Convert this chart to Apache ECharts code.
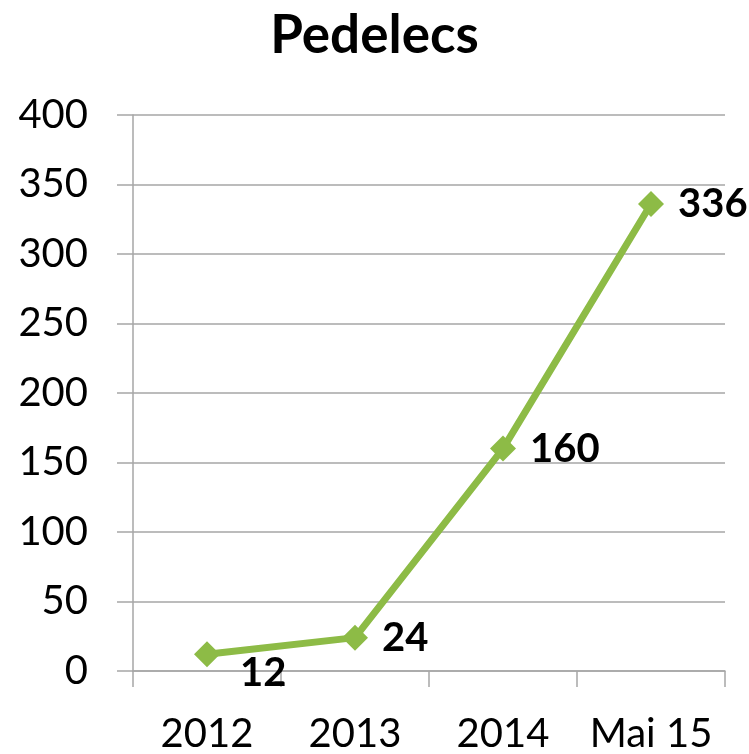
<!DOCTYPE html>
<html>
<head>
<meta charset="utf-8">
<script src="https://cdn.jsdelivr.net/npm/echarts@6/dist/echarts.min.js"></script>
<style>
  html, body { margin: 0; padding: 0; background: #fff; }
  #chart { width: 749px; height: 754px; }
</style>
</head>
<body>
<div id="chart"></div>
<script>
// 数据
var categories = ['2012', '2013', '2014', 'Mai 15']
var values = [12, 24, 160, 336]
var yTicks = [0, 50, 100, 150, 200, 250, 300, 350, 400]

var myChart = echarts.init(document.getElementById('chart'))

var seriesData = values.map(function (v, i) {
  var item = { value: v }
  if (i === 0) {
    // 第一个标签放在点的右下方
    item.label = { offset: [6, 19] }
  }
  return item
})

var option = {
  animation: false,
  title: {
    text: 'Pedelecs',
    left: 'center',
    top: 4,
    textStyle: {
      fontFamily: 'Lato',
      fontWeight: 'bold',
      fontSize: 53,
      color: '#000'
    }
  },
  grid: { left: 133, right: 24, top: 115, bottom: 82 },
  xAxis: {
    type: 'category',
    data: categories,
    boundaryGap: true,
    axisLine: { lineStyle: { color: '#a6a6a6', width: 1.5 } },
    axisTick: { show: true, length: 16, lineStyle: { color: '#a6a6a6', width: 1.5 } },
    axisLabel: {
      interval: 0,
      margin: 43,
      fontFamily: 'Lato',
      fontSize: 40,
      color: '#000'
    }
  },
  yAxis: {
    type: 'value',
    min: yTicks[0],
    max: yTicks[yTicks.length - 1],
    interval: 50,
    axisLine: { show: true, lineStyle: { color: '#a6a6a6', width: 1.5 } },
    axisTick: { show: true, length: 16, lineStyle: { color: '#a6a6a6', width: 1.5 } },
    axisLabel: {
      margin: 45,
      fontFamily: 'Lato',
      fontSize: 40,
      color: '#000'
    },
    splitLine: { show: true, lineStyle: { color: '#a6a6a6', width: 1.5 } }
  },
  series: [
    {
      type: 'line',
      data: seriesData,
      symbol: 'diamond',
      symbolSize: 26,
      lineStyle: { color: '#8dbb46', width: 7 },
      itemStyle: { color: '#8dbb46' },
      label: {
        show: true,
        position: 'right',
        distance: 14,
        fontFamily: 'Lato',
        fontWeight: 'bold',
        fontSize: 40,
        color: '#000'
      }
    }
  ]
}
myChart.setOption(option)
</script>
</body>
</html>
